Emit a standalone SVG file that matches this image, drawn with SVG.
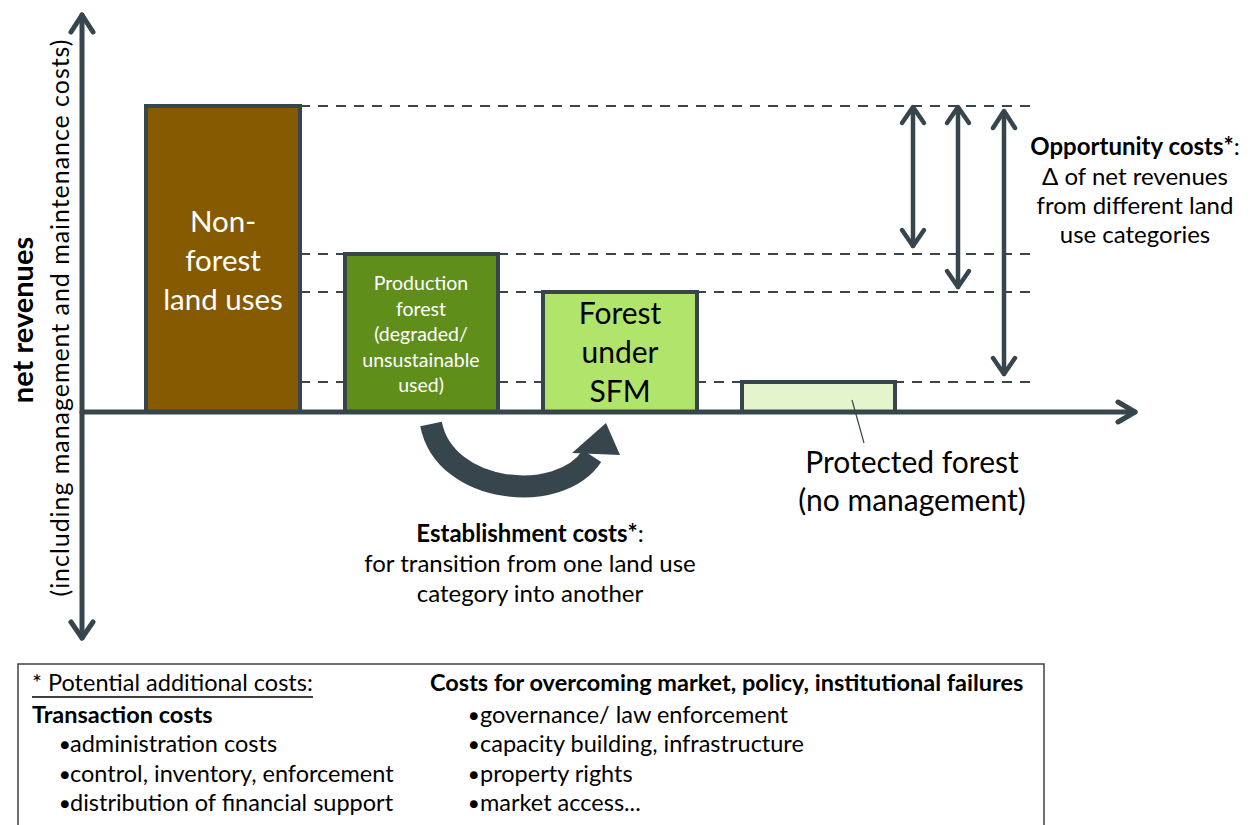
<svg xmlns="http://www.w3.org/2000/svg" width="1252" height="825" viewBox="0 0 1252 825">
<style>
text{font-family:Lato,"Liberation Sans",sans-serif;fill:#000}
.w{fill:#fff}
.b{font-weight:bold}
.box{stroke:#37464D;stroke-width:4}
.dash{stroke:#37464D;stroke-width:2;stroke-dasharray:10 8;fill:none}
.ax{stroke:#37464D;stroke-width:5;fill:none;stroke-linecap:round;stroke-linejoin:round}
.dbl{stroke:#37464D;stroke-width:4.5;fill:none;stroke-linecap:round;stroke-linejoin:round}
.m{text-anchor:middle}
.lg{font-size:23.5px}
.bu{font-size:16px}
</style>
<rect width="1252" height="825" fill="#fff"/>
<g id="gridlines">
<line class="dash" x1="300" y1="106" x2="1030" y2="106"/>
<line class="dash" x1="300" y1="254" x2="1030" y2="254"/>
<line class="dash" x1="300" y1="292" x2="1030" y2="292"/>
<line class="dash" x1="300" y1="382" x2="1030" y2="382"/>
</g>
<g id="non-forest">
<rect class="box" x="146" y="106" width="154" height="306" fill="#865A00"/>
<text class="w m" x="223" y="232" font-size="29.5">Non-</text>
<text class="w m" x="223" y="271" font-size="29.5">forest</text>
<text class="w m" x="223" y="310" font-size="29.5">land uses</text>
</g>
<g id="production-forest">
<rect class="box" x="345" y="254" width="153" height="158" fill="#5F8E1B"/>
<text class="w m" x="421" y="290" font-size="19.5">Production</text>
<text class="w m" x="421" y="315.5" font-size="19.5">forest</text>
<text class="w m" x="421" y="341" font-size="19.5">(degraded/</text>
<text class="w m" x="421" y="366.5" font-size="19.5">unsustainable</text>
<text class="w m" x="421" y="392" font-size="19.5">used)</text>
</g>
<g id="forest-sfm">
<rect class="box" x="543" y="292" width="154" height="120" fill="#B0E46A"/>
<text class="m" x="620" y="324" font-size="30">Forest</text>
<text class="m" x="620" y="363" font-size="30">under</text>
<text class="m" x="620" y="402" font-size="30">SFM</text>
</g>
<g id="protected-forest">
<rect class="box" x="742" y="382" width="153" height="30" fill="#E4F5CE"/>
<text class="m" x="912" y="473" font-size="30">Protected forest</text>
<text class="m" x="912" y="511" font-size="30">(no management)</text>
</g>
<g id="axes">
<line class="ax" x1="82" y1="15" x2="82" y2="638"/>
<polyline class="ax" points="71,32 82,15 93,32"/>
<polyline class="ax" points="71,622 82,638 93,622"/>
<line class="ax" x1="82" y1="412" x2="1135" y2="412"/>
<polyline class="ax" points="1118,402 1135,412 1118,422"/>
</g>
<g id="axis-labels">
<text class="b m" font-size="29" transform="translate(33,320) rotate(-90)">net revenues</text>
<text class="m" font-size="25" textLength="557" lengthAdjust="spacing" transform="translate(69,318) rotate(-90)">(including management  and maintenance costs)</text>
</g>
<g id="connectors">
<line x1="852" y1="400" x2="864" y2="443" stroke="#37464D" stroke-width="1.2"/>
<path d="M431,424 C445,495 560,505 592,456" stroke="#37464D" stroke-width="22" fill="none"/>
<polygon points="572,453 606,423 620,455" fill="#37464D"/>
<polyline class="dbl" points="902,123 913,107 924,123"/>
<line class="dbl" x1="913" y1="108" x2="913" y2="246"/>
<polyline class="dbl" points="902,230 913,246 924,230"/>
<polyline class="dbl" points="947,123 958,107 969,123"/>
<line class="dbl" x1="958" y1="108" x2="958" y2="287"/>
<polyline class="dbl" points="947,271 958,287 969,271"/>
<polyline class="dbl" points="993,128 1004,111 1015,128"/>
<line class="dbl" x1="1004" y1="112" x2="1004" y2="374"/>
<polyline class="dbl" points="993,358 1004,374 1015,358"/>
</g>
<g id="opportunity-costs">
<text class="m" x="1135" y="155" font-size="24"><tspan class="b">Opportunity costs*</tspan>:</text>
<text class="m" x="1135" y="185" font-size="24">Δ of net revenues</text>
<text class="m" x="1135" y="214" font-size="24">from different land</text>
<text class="m" x="1135" y="243" font-size="24">use categories</text>
</g>
<g id="establishment-costs">
<text class="m" x="530" y="542" font-size="24"><tspan class="b">Establishment costs*</tspan>:</text>
<text class="m" x="530" y="572" font-size="24">for transition from one land use</text>
<text class="m" x="530" y="602" font-size="24">category into another</text>
</g>
<g id="legend">
<rect x="18" y="664" width="1026" height="200" fill="none" stroke="#404040" stroke-width="1.5"/>
<text class="lg" x="32" y="691">* Potential additional costs:</text>
<line x1="32" y1="697" x2="313" y2="697" stroke="#000" stroke-width="1.5"/>
<text class="lg b" x="32" y="723">Transaction costs</text>
<text class="bu" x="60" y="750">●</text><text class="lg" x="70" y="752">administration costs</text>
<text class="bu" x="60" y="780">●</text><text class="lg" x="70" y="782">control, inventory, enforcement</text>
<text class="bu" x="60" y="809">●</text><text class="lg" x="70" y="811">distribution of financial support</text>
<text class="lg b" x="430" y="691">Costs for overcoming market, policy, institutional failures</text>
<text class="bu" x="469" y="721">●</text><text class="lg" x="480" y="723">governance/ law enforcement</text>
<text class="bu" x="469" y="750">●</text><text class="lg" x="480" y="752">capacity building, infrastructure</text>
<text class="bu" x="469" y="780">●</text><text class="lg" x="480" y="782">property rights</text>
<text class="bu" x="469" y="809">●</text><text class="lg" x="480" y="811">market access...</text>
</g>
</svg>
